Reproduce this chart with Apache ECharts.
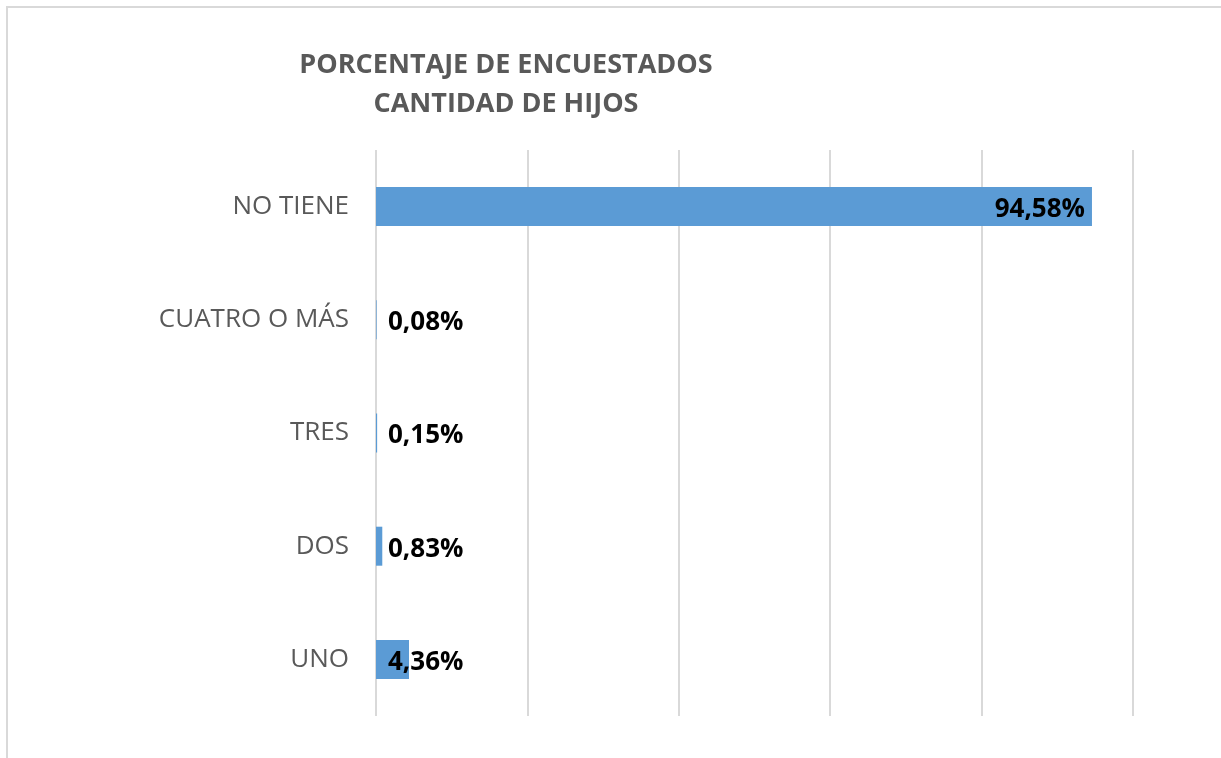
<!DOCTYPE html>
<html>
<head>
<meta charset="utf-8">
<script src="https://cdn.jsdelivr.net/npm/echarts@6/dist/echarts.min.js"></script>
<style>html,body{margin:0;padding:0;background:#fff;}#c{width:1221px;height:758px;}</style>
</head>
<body>
<div id="c"></div>
<script>
const categories = ['UNO', 'DOS', 'TRES', 'CUATRO O MÁS', 'NO TIENE'];
const values = [4.36, 0.83, 0.15, 0.08, 94.58];
const titleLines = ['PORCENTAJE DE ENCUESTADOS', 'CANTIDAD DE HIJOS'];

const FONT = '"Open Sans", sans-serif';
const chart = echarts.init(document.getElementById('c'));
chart.setOption({
  animation: false,
  backgroundColor: '#fff',
  title: {
    text: titleLines.join('\n'),
    left: 501, top: 41, textAlign: 'center',
    textStyle: { fontFamily: FONT, fontSize: 27, fontWeight: 'bold', color: '#595959', lineHeight: 39 }
  },
  graphic: [{
    type: 'rect', silent: true,
    shape: { x: 7, y: 7, width: 1400, height: 900 },
    style: { fill: 'none', stroke: '#d9d9d9', lineWidth: 2 }
  }],
  grid: { left: 376, right: 88, top: 150, bottom: 42, containLabel: false },
  xAxis: {
    type: 'value', min: 0, max: 100, interval: 20,
    axisLabel: { show: false }, axisLine: { show: false }, axisTick: { show: false },
    splitLine: { show: true, lineStyle: { color: '#d9d9d9', width: 2 } }
  },
  yAxis: {
    type: 'category', data: categories,
    axisLine: { show: false }, axisTick: { show: false },
    axisLabel: { margin: 27, fontFamily: FONT, fontSize: 26, color: '#595959', padding: [5, 0, 0, 0] }
  },
  series: [{
    type: 'bar', barWidth: 39,
    itemStyle: { color: '#5b9bd5' },
    label: {
      show: true, fontFamily: FONT, fontSize: 26, fontWeight: 'bold', color: '#000',
      offset: [0, 3],
      formatter: p => p.value.toFixed(2).replace('.', ',') + '%'
    },
    data: values.map(v => ({
      value: v,
      label: v > 50 ? { position: 'insideRight', distance: 7 } : { position: 'insideLeft', distance: 12 }
    }))
  }]
});
</script>
</body>
</html>
